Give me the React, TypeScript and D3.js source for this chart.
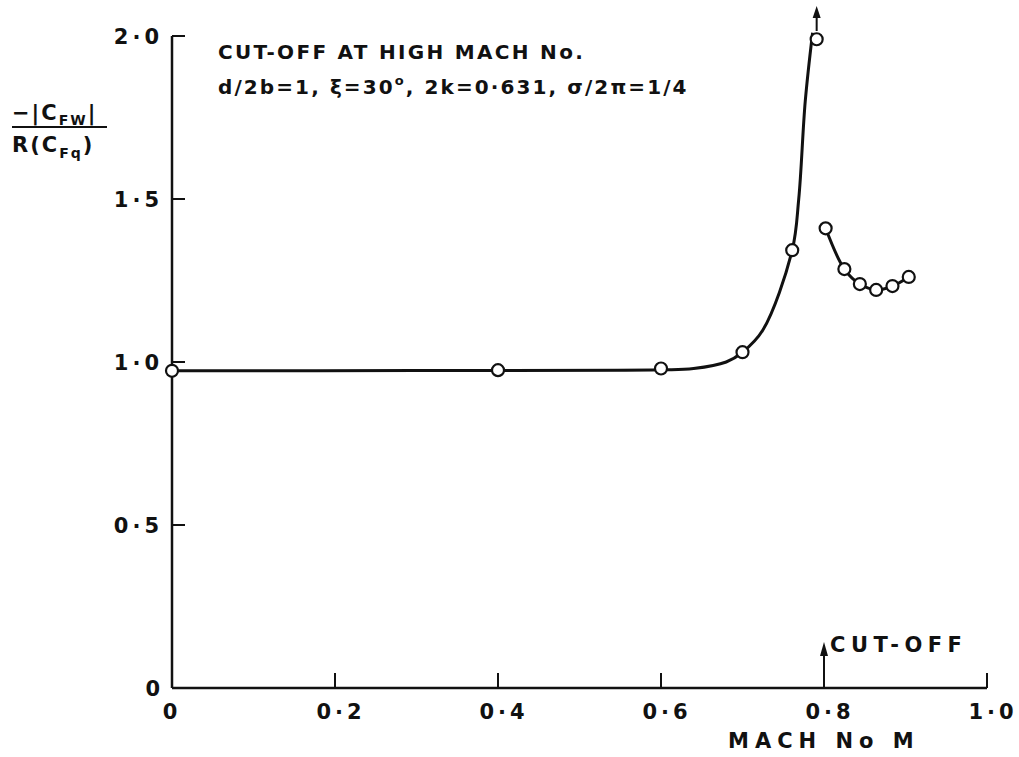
import React from 'react';
import * as d3 from 'd3';

// measured points (Mach No, -|CFW|/R(CFq))
const pointsLow: [number, number][] = [
  [0, 0.973], [0.4, 0.975], [0.6, 0.98], [0.7, 1.03], [0.761, 1.343], [0.791, 1.99],
];
const pointsHigh: [number, number][] = [
  [0.802, 1.41], [0.825, 1.285], [0.844, 1.239], [0.864, 1.221], [0.884, 1.233], [0.904, 1.261],
];
// faired curve through the low-Mach points
const curveLow: [number, number][] = [
  [0, 0.973], [0.3, 0.974], [0.6, 0.976], [0.64, 0.98], [0.68, 1.0], [0.7, 1.03],
  [0.725, 1.098], [0.761, 1.343], [0.769, 1.5], [0.777, 1.8], [0.786, 2.01],
];
const xTicks = [0, 0.2, 0.4, 0.6, 0.8, 1.0];
const yTicks = [0, 0.5, 1.0, 1.5, 2.0];
const cutOff = 0.8;

const fmt = (v: number) => (v === 0 ? '0' : v.toFixed(1).replace('.', '·'));

const App = () => {
  const x = d3.scaleLinear().domain([0, 1]).range([172, 987]);
  const y = d3.scaleLinear().domain([0, 2]).range([688, 36]);
  const line = d3.line<[number, number]>()
    .x(d => x(d[0]))
    .y(d => y(d[1]))
    .curve(d3.curveCatmullRom.alpha(0.5));

  const font = '"DejaVu Sans", sans-serif';
  const ink = '#111';

  return (
    <svg width={1019} height={757} style={{ position: 'absolute', left: 0, top: 0, background: '#fff' }}
      fontFamily={font} fill={ink} fontWeight="bold">
      {/* axes */}
      <line x1={x(0)} x2={x(0)} y1={y(0)} y2={y(2)} stroke={ink} strokeWidth={2.5} />
      <line x1={x(0)} x2={x(1)} y1={y(0)} y2={y(0)} stroke={ink} strokeWidth={2.5} />
      {yTicks.filter(t => t > 0).map(t => (
        <g key={'y' + t}>
          <line x1={x(0)} x2={x(0) + 13} y1={y(t)} y2={y(t)} stroke={ink} strokeWidth={2} />
          <text x={163} y={y(t) + 8} fontSize={21} textAnchor="end" letterSpacing={4}>{fmt(t)}</text>
        </g>
      ))}
      <text x={160} y={y(0) + 8} fontSize={21} textAnchor="end">{fmt(0)}</text>
      {xTicks.map(t => (
        <g key={'x' + t}>
          {t > 0 && t !== cutOff && (
            <line x1={x(t)} x2={x(t)} y1={y(0)} y2={y(0) - 15} stroke={ink} strokeWidth={2} />
          )}
          <text x={x(t) + (t === 0 ? 0 : 6)} y={719} fontSize={21} textAnchor="middle" letterSpacing={4}>{fmt(t)}</text>
        </g>
      ))}
      <text x={728} y={748} fontSize={21} letterSpacing={6}>MACH No M</text>

      {/* cut-off marker */}
      <line x1={x(cutOff)} x2={x(cutOff)} y1={y(0)} y2={y(0) - 36} stroke={ink} strokeWidth={2} />
      <path d={`M${x(cutOff)},${y(0) - 46} l-4,14 l8,0 z`} fill={ink} />
      <text x={x(cutOff) + 6} y={652} fontSize={21} letterSpacing={5.5}>CUT-OFF</text>

      {/* y label */}
      <text x={12} y={120} fontSize={21} letterSpacing={2}>
        −|C<tspan fontSize={14} dy={5}>FW</tspan><tspan dy={-5}>|</tspan>
      </text>
      <line x1={12} x2={107} y1={127} y2={127} stroke={ink} strokeWidth={2} />
      <text x={12} y={152} fontSize={21} letterSpacing={2}>
        R(C<tspan fontSize={14} dy={6}>Fq</tspan><tspan dy={-6}>)</tspan>
      </text>

      {/* title */}
      <text x={218} y={59} fontSize={20} letterSpacing={2.3}>CUT-OFF AT HIGH MACH No.</text>
      <text x={218} y={94} fontSize={20} letterSpacing={2.1}>
        d/2b=1, ξ=30<tspan fontSize={13} dy={-9}>o</tspan><tspan dy={9}>, 2k=0·631, σ/2π=1/4</tspan>
      </text>

      {/* curves */}
      <path d={line(curveLow) || ''} fill="none" stroke={ink} strokeWidth={3} />
      <path d={line(pointsHigh) || ''} fill="none" stroke={ink} strokeWidth={3} />

      {/* off-scale arrow */}
      <line x1={x(0.791)} x2={x(0.791)} y1={31} y2={14} stroke={ink} strokeWidth={2} />
      <path d={`M${x(0.791)},6 l-4,12 l8,0 z`} fill={ink} />

      {/* points */}
      {[...pointsLow, ...pointsHigh].map((d, i) => (
        <circle key={i} cx={x(d[0])} cy={y(d[1])} r={6} fill="#fff" stroke={ink} strokeWidth={2.2} />
      ))}
    </svg>
  );
};

export default App;
